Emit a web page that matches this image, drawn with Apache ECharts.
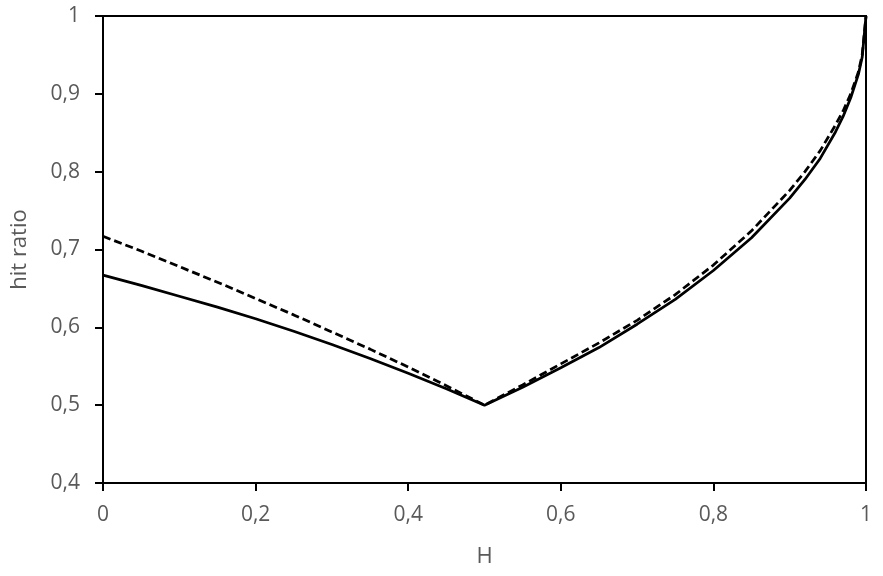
<!DOCTYPE html>
<html><head><meta charset="utf-8">
<script src="https://cdn.jsdelivr.net/npm/echarts@6/dist/echarts.min.js"></script>
<style>html,body{margin:0;padding:0;background:#fff}#c{width:883px;height:576px}</style>
</head><body><div id="c"></div>
<script>
const H = [0,0.05,0.1,0.15,0.2,0.25,0.3,0.35,0.4,0.45,0.5,0.55,0.6,0.65,0.7,0.75,0.8,0.85,0.9,0.92,0.94,0.96,0.97,0.98,0.99,0.995,1];
const solid = [0.667,0.654,0.640,0.626,0.611,0.595,0.578,0.560,0.541,0.521,0.500,0.523,0.548,0.574,0.604,0.636,0.673,0.715,0.766,0.790,0.817,0.851,0.871,0.895,0.925,0.947,1.0];
const dashed = [0.717,0.698,0.678,0.658,0.637,0.616,0.594,0.572,0.549,0.525,0.500,0.526,0.553,0.580,0.609,0.642,0.680,0.724,0.776,0.800,0.827,0.860,0.878,0.900,0.928,0.950,1.0];
const xTicks = [0,0.2,0.4,0.6,0.8,1];
const yTicks = [0.4,0.5,0.6,0.7,0.8,0.9,1];
const xName = 'H', yName = 'hit ratio';

const fmt = v => String(Math.round(v*10)/10).replace('.', ',');
const chart = echarts.init(document.getElementById('c'), null, {renderer:'canvas'});
const font = 'Open Sans';
chart.setOption({
  animation:false,
  grid:{left:103,right:17,top:16,bottom:93,show:true,borderColor:'#000',borderWidth:2,backgroundColor:'transparent'},
  xAxis:{type:'value',min:xTicks[0],max:xTicks[xTicks.length-1],interval:0.2,
    name:xName,nameLocation:'middle',nameGap:63,
    nameTextStyle:{color:'#595959',fontSize:22,fontFamily:font},
    axisLine:{show:true,lineStyle:{color:'#000',width:2}},
    axisTick:{show:true,length:8,inside:false,lineStyle:{color:'#000',width:2}},
    axisLabel:{margin:22,color:'#595959',fontSize:21,fontFamily:font,formatter:fmt},
    splitLine:{show:false}},
  yAxis:{type:'value',min:yTicks[0],max:yTicks[yTicks.length-1],interval:0.1,
    name:yName,nameLocation:'middle',nameGap:72,
    nameTextStyle:{color:'#595959',fontSize:22,fontFamily:font},
    axisLine:{show:true,lineStyle:{color:'#000',width:2}},
    axisTick:{show:true,length:8,inside:false,lineStyle:{color:'#000',width:2}},
    axisLabel:{margin:23,color:'#595959',fontSize:21,fontFamily:font,formatter:fmt},
    splitLine:{show:false}},
  series:[
    {type:'line',data:H.map((h,i)=>[h,solid[i]]),showSymbol:false,smooth:false,
      lineStyle:{color:'#000',width:2.75,type:'solid'}},
    {type:'line',data:H.map((h,i)=>[h,dashed[i]]),showSymbol:false,smooth:false,
      lineStyle:{color:'#000',width:2.75,type:[8,4]}}
  ]
});
</script></body></html>
